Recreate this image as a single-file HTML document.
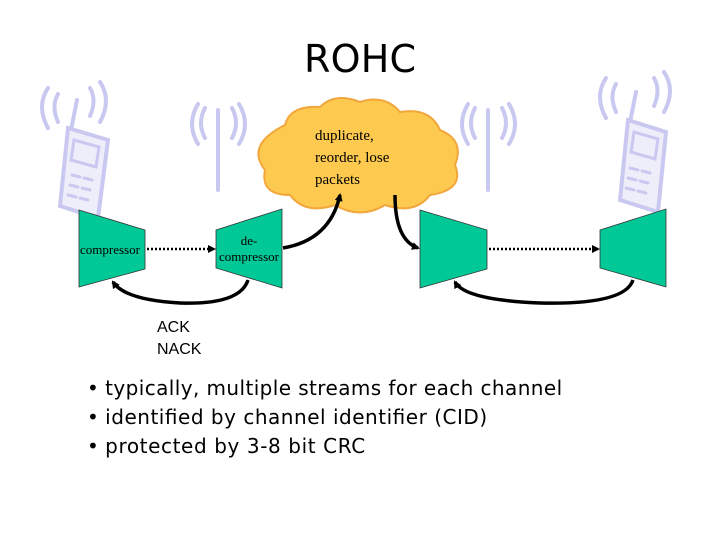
<!DOCTYPE html>
<html><head><meta charset="utf-8"><style>body{margin:0;background:#fff}svg{display:block}</style></head><body>
<svg width="720" height="540" viewBox="0 0 720 540" xmlns="http://www.w3.org/2000/svg">
<defs><marker id="a" markerWidth="8" markerHeight="8" refX="6" refY="4" orient="auto" markerUnits="userSpaceOnUse"><path d="M0,0 L8,4 L0,8 z" fill="#000"/></marker></defs>
<text x="360" y="72" font-family="DejaVu Sans, sans-serif" font-size="38" text-anchor="middle" textLength="112">ROHC</text>
<g fill="none" stroke="#c8c8f0" stroke-width="4" stroke-linecap="round">
<path d="M48,88 q-12,18 0,40 M58,94 q-7,12 0,28 M100,82 q12,18 0,40 M90,88 q7,12 0,28"/>
<path d="M77,100 l-8,40"/>
<path d="M68,128 l40,12 l-10,78 l-38,-12 z" fill="#eeeefb"/>
<path d="M74,140 l25,7 l-3,20 l-25,-7 z M72,175 l8,2 M84,178 l8,2 M70,185 l8,2 M82,188 l8,2 M68,195 l8,2 M80,198 l8,2" stroke-width="3"/>
<path d="M218,110 l0,80 M205,108 q-8,15 0,30 M198,104 q-12,20 0,40 M232,108 q8,15 0,30 M239,104 q12,20 0,40"/>
<path d="M488,110 l0,80 M475,108 q-8,15 0,30 M468,104 q-12,20 0,40 M502,108 q8,15 0,30 M509,104 q12,20 0,40"/>
<path d="M606,78 q-12,18 0,40 M616,84 q-7,12 0,28 M664,72 q12,18 0,40 M654,78 q7,12 0,28"/>
<path d="M636,92 l-8,40"/>
<path d="M628,120 l38,12 l-8,80 l-38,-12 z" fill="#eeeefb"/>
<path d="M634,132 l24,7 l-3,20 l-24,-7 z M630,168 l8,2 M642,171 l8,2 M628,178 l8,2 M640,181 l8,2 M626,188 l8,2 M638,191 l8,2" stroke-width="3"/>
</g>
<path d="M285,125 q5,-20 35,-18 q15,-15 40,-5 q25,-8 40,10 q30,-5 40,18 q25,10 15,35 q10,25 -25,30 q-15,20 -45,10 q-25,15 -50,0 q-30,10 -45,-10 q-30,0 -25,-25 q-20,-25 20,-45 z" fill="#fdca4f" stroke="#f2a63c" stroke-width="2"/>
<g font-family="Liberation Serif, serif" font-size="15">
<text x="315" y="140">duplicate,</text><text x="315" y="162">reorder, lose</text><text x="315" y="184">packets</text>
</g>
<g fill="#00c896" stroke="#333" stroke-width="0.8">
<path d="M79,210 L145,230 L145,269 L79,287 z"/>
<path d="M216,230 L282,209 L282,288 L216,268 z"/>
<path d="M420,210 L487,230 L487,269 L420,288 z"/>
<path d="M600,230 L666,209 L666,287 L600,268 z"/>
</g>
<g font-family="Liberation Serif, serif" font-size="13">
<text x="80" y="254">compressor</text>
<text x="249" y="245" text-anchor="middle">de-</text>
<text x="249" y="261" text-anchor="middle">compressor</text>
</g>
<g fill="none" stroke="#000" stroke-width="2.5">
<path d="M147,249 L214,249" stroke-dasharray="2,2" marker-end="url(#a)"/>
<path d="M489,249 L598,249" stroke-dasharray="2,2" marker-end="url(#a)"/>
<path d="M283,248 Q330,240 340,195" stroke-width="3.5" marker-end="url(#a)"/>
<path d="M395,195 Q395,240 418,248" stroke-width="3.5" marker-end="url(#a)"/>
<path d="M248,280 Q240,305 180,303 Q125,300 113,282" stroke-width="3.5" marker-end="url(#a)"/>
<path d="M633,280 Q625,305 540,303 Q465,300 455,282" stroke-width="3.5" marker-end="url(#a)"/>
</g>
<g font-family="Liberation Sans, sans-serif" font-size="16">
<text x="157" y="332">ACK</text><text x="157" y="354">NACK</text>
</g>
<g font-family="DejaVu Sans, sans-serif" font-size="20">
<text x="87" y="395">• <tspan textLength="457">typically, multiple streams for each channel</tspan></text>
<text x="87" y="424">• <tspan textLength="382">identified by channel identifier (CID)</tspan></text>
<text x="87" y="453">• <tspan textLength="260">protected by 3-8 bit CRC</tspan></text>
</g>
</svg>
</body></html>
